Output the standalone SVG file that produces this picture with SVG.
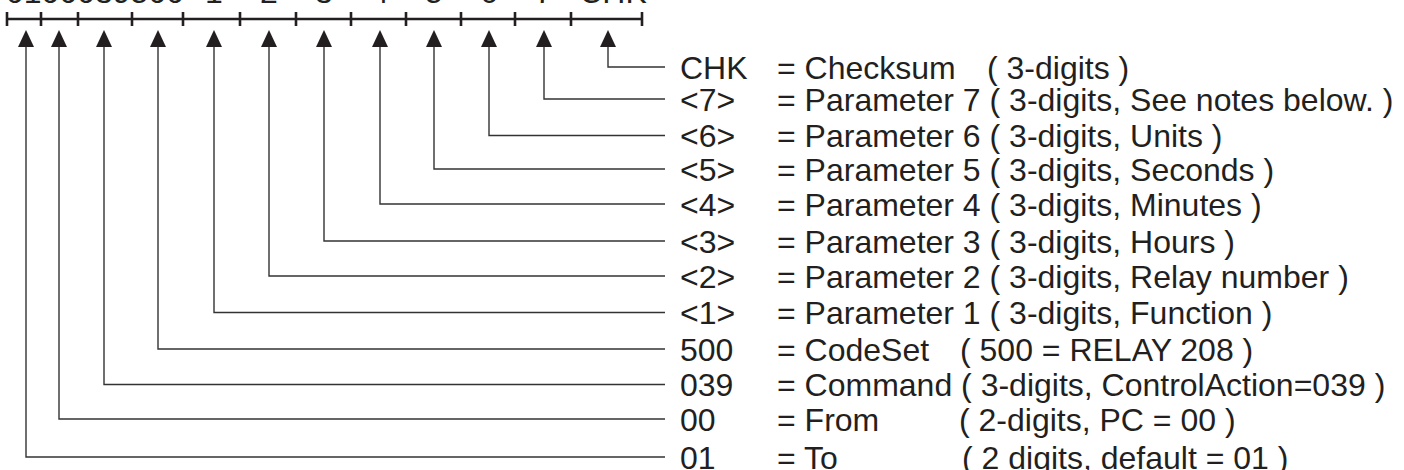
<svg xmlns="http://www.w3.org/2000/svg" width="1404" height="470" viewBox="0 0 1404 470">
  <style>
    .t { font-family: "Liberation Sans", Arial, sans-serif; font-size: 32px; fill: #231f20; }
    .bar { stroke: #231f20; stroke-width: 2.6; fill: none; }
    .conn { stroke: #333333; stroke-width: 1.4; fill: none; marker-end: url(#ah); }
  </style>
  <defs>
    <marker id="ah" viewBox="0 0 17 16" refX="0" refY="8" markerWidth="17" markerHeight="16" markerUnits="userSpaceOnUse" orient="auto">
      <path d="M0,0 L17,8 L0,16 z" fill="#231f20"/>
    </marker>
  </defs>
  <rect width="1404" height="470" fill="#ffffff"/>

  <g id="frame">
    <text class="t" x="6" y="2.5">0100039500</text>
    <text class="t" x="214" y="2.5" text-anchor="middle">1</text>
    <text class="t" x="269" y="2.5" text-anchor="middle">2</text>
    <text class="t" x="324" y="2.5" text-anchor="middle">3</text>
    <text class="t" x="380" y="2.5" text-anchor="middle">4</text>
    <text class="t" x="434" y="2.5" text-anchor="middle">5</text>
    <text class="t" x="489" y="2.5" text-anchor="middle">6</text>
    <text class="t" x="544" y="2.5" text-anchor="middle">7</text>
    <text class="t" x="613" y="2.5" text-anchor="middle">CHK</text>
    <path class="bar" d="M7,19 H642 M7,12 V26 M41,12 V26 M78,12 V26 M132,12 V26 M183,12 V26 M240,12 V26 M296,12 V26 M351,12 V26 M406,12 V26 M461,12 V26 M515,12 V26 M571,12 V26 M642,12 V26"/>
  </g>

  <g id="connectors">
    <path class="conn" d="M665,67 H608 V47"/>
    <path class="conn" d="M665,99 H544 V47"/>
    <path class="conn" d="M665,135.5 H489 V47"/>
    <path class="conn" d="M665,169 H434 V47"/>
    <path class="conn" d="M665,204 H380 V47"/>
    <path class="conn" d="M665,241 H324 V47"/>
    <path class="conn" d="M665,276 H269 V47"/>
    <path class="conn" d="M665,312.5 H214 V47"/>
    <path class="conn" d="M665,349 H158 V47"/>
    <path class="conn" d="M665,384.5 H104 V47"/>
    <path class="conn" d="M665,419 H59 V47"/>
    <path class="conn" d="M665,457 H26 V47"/>
  </g>

  <g id="row-chk"><text class="t" y="78.5"><tspan x="680">CHK</tspan><tspan x="777">= Checksum</tspan><tspan x="987">( 3-digits )</tspan></text></g>
  <g id="row-p7"><text class="t" y="110.5"><tspan x="680">&lt;7&gt;</tspan><tspan x="777">= Parameter 7 ( 3-digits, See notes below. )</tspan></text></g>
  <g id="row-p6"><text class="t" y="147"><tspan x="680">&lt;6&gt;</tspan><tspan x="777">= Parameter 6 ( 3-digits, Units )</tspan></text></g>
  <g id="row-p5"><text class="t" y="180.5"><tspan x="680">&lt;5&gt;</tspan><tspan x="777">= Parameter 5 ( 3-digits, Seconds )</tspan></text></g>
  <g id="row-p4"><text class="t" y="215.5"><tspan x="680">&lt;4&gt;</tspan><tspan x="777">= Parameter 4 ( 3-digits, Minutes )</tspan></text></g>
  <g id="row-p3"><text class="t" y="252.5"><tspan x="680">&lt;3&gt;</tspan><tspan x="777">= Parameter 3 ( 3-digits, Hours )</tspan></text></g>
  <g id="row-p2"><text class="t" y="287.5"><tspan x="680">&lt;2&gt;</tspan><tspan x="777">= Parameter 2 ( 3-digits, Relay number )</tspan></text></g>
  <g id="row-p1"><text class="t" y="324"><tspan x="680">&lt;1&gt;</tspan><tspan x="777">= Parameter 1 ( 3-digits, Function )</tspan></text></g>
  <g id="row-codeset"><text class="t" y="360.5"><tspan x="680">500</tspan><tspan x="777">= CodeSet</tspan><tspan x="960">( 500 = RELAY 208 )</tspan></text></g>
  <g id="row-command"><text class="t" y="396"><tspan x="680">039</tspan><tspan x="777">= Command ( 3-digits, ControlAction=039 )</tspan></text></g>
  <g id="row-from"><text class="t" y="430.5"><tspan x="680">00</tspan><tspan x="777">= From</tspan><tspan x="959">( 2-digits, PC = 00 )</tspan></text></g>
  <g id="row-to"><text class="t" y="468.5"><tspan x="680">01</tspan><tspan x="777">= To</tspan><tspan x="962">( 2 digits, default = 01 )</tspan></text></g>
</svg>
